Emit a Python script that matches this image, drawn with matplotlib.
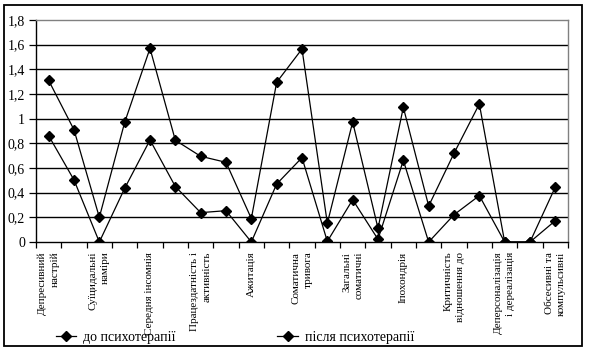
import matplotlib
matplotlib.use("Agg")
import matplotlib.pyplot as plt
from matplotlib.patches import Rectangle
from matplotlib.lines import Line2D
from matplotlib.ticker import FixedLocator, FuncFormatter

plt.rcParams['font.family'] = ['Liberation Serif', 'DejaVu Serif']

positions = list(range(1, 22))
before = [1.31, 0.91, 0.20, 0.97, 1.57, 0.825, 0.695, 0.646, 0.19, 1.295,
          1.565, 0.152, 0.973, 0.111, 1.092, 0.292, 0.719, 1.119, 0.0, 0.0, 0.446]
after = [0.862, 0.503, 0.0, 0.435, 0.827, 0.45, 0.238, 0.254, 0.0, 0.47,
         0.684, 0.005, 0.343, 0.022, 0.662, 0.0, 0.221, 0.376, 0.0, 0.0, 0.173]
label_positions = [1, 3, 5, 7, 9, 11, 13, 15, 17, 19, 21]
tick_labels = ["Депресивний\nнастрій", "Суїцидальні\nнаміри", "Середня інсомнія",
               "Працездатність і\nактивність", "Ажитація", "Соматична\nтривога",
               "Загальні\nсоматичні", "Іпохондрія", "Критичність\nвідношення до",
               "Деперсоналізація\nі дереалізація", "Обсесивні та\nкомпульсивні"]
series_names = ["до психотерапії", "після психотерапії"]
yticks = [0, 0.2, 0.4, 0.6, 0.8, 1.0, 1.2, 1.4, 1.6, 1.8]

W, H = 589, 351
fig = plt.figure(figsize=(W / 100, H / 100), dpi=100)
ax = fig.add_axes([36 / W, 1 - 242 / H, (568 - 36) / W, (242 - 20) / H])

for ys in (before, after):
    ax.plot(positions, ys, color='black', lw=0.9, marker='D', ms=4.8,
            markerfacecolor='black', markeredgecolor='black', zorder=3)

ax.set_xlim(0.5, 21.5)
ax.set_ylim(0, 1.8)
ax.set_yticks(yticks)
ax.yaxis.set_major_formatter(FuncFormatter(
    lambda v, p: ('%g' % round(v, 1)).replace('.', ',')))
for y in yticks[1:-1]:
    ax.axhline(y, color='black', lw=1.0, zorder=1)

ax.set_xticks(label_positions)
ax.set_xticklabels(tick_labels, rotation=90, va='top', ha='center',
                   multialignment='right', linespacing=1.45)
ax.xaxis.set_minor_locator(FixedLocator([i + 0.5 for i in range(0, 22)]))
ax.tick_params(axis='x', which='major', length=0, pad=7, labelsize=8)
ax.tick_params(axis='x', which='minor', length=4, width=0.9, direction='out', color='black')
ax.tick_params(axis='y', length=5, width=0.9, direction='out', labelsize=10, pad=3)

ax.spines['left'].set_color('black')
ax.spines['bottom'].set_color('black')
ax.spines['top'].set_color('#808080')
ax.spines['right'].set_color('#808080')
for s in ax.spines.values():
    s.set_linewidth(1.0)

handles = [Line2D([], [], color='black', lw=0.9, marker='D', ms=4.8) for _ in series_names]
fig.legend(handles, series_names, loc='center left', ncol=2, frameon=False,
           bbox_to_anchor=(50 / W, 14 / H), fontsize=10, handlelength=1.5,
           handletextpad=0.5, columnspacing=7.3, borderaxespad=0)

fig.add_artist(Rectangle((4 / W, 5 / H), (582 - 4) / W, (346 - 5) / H,
                         transform=fig.transFigure, fill=False, ec='black', lw=1.3))

fig.savefig('out.png', dpi=100)
